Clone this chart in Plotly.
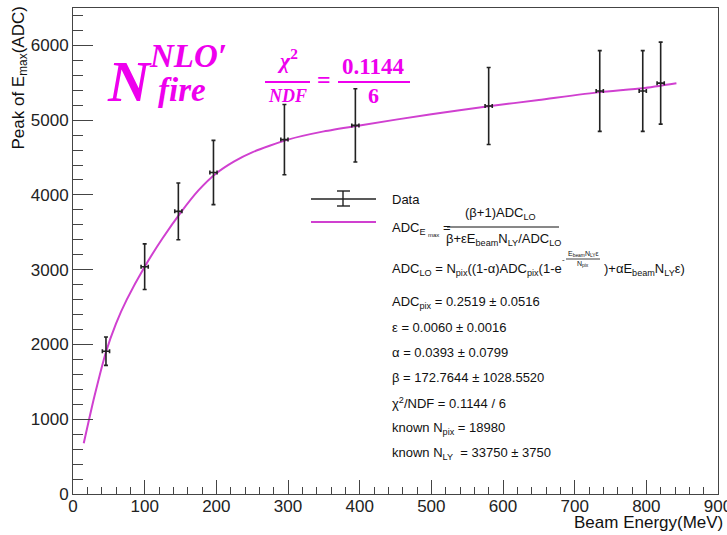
import plotly.graph_objects as go

# Measured peak positions per beam energy
energy_mev = [46, 100, 147, 196, 295, 394, 580, 735, 795, 820]
peak_adc = [1910, 3040, 3780, 4300, 4740, 4930, 5190, 5390, 5390, 5495]
peak_err = [190, 305, 380, 430, 470, 490, 515, 540, 540, 548]
energy_err = [5, 5, 5, 5, 5, 5, 5, 5, 5, 5]

# Fitted curve sampled along the energy axis
fit_energy = [15, 22, 30, 46, 60, 75, 100, 125, 150, 175, 200, 225, 250, 300,
              350, 400, 500, 580, 650, 735, 795, 842]
fit_adc = [680, 980, 1310, 1900, 2280, 2600, 3040, 3420, 3760, 4060, 4290, 4450,
           4570, 4740, 4850, 4930, 5080, 5185, 5270, 5375, 5428, 5495]

x_ticks = [0, 100, 200, 300, 400, 500, 600, 700, 800, 900]
y_ticks = [0, 1000, 2000, 3000, 4000, 5000, 6000]

param_lines = [
    "ADC<sub>pix</sub> = 0.2519 ± 0.0516",
    "ε = 0.0060 ± 0.0016",
    "α = 0.0393 ± 0.0799",
    "β = 172.7644 ± 1028.5520",
    "χ<sup>2</sup>/NDF = 0.1144 / 6",
    "known N<sub>pix</sub> = 18980",
    "known N<sub>LY</sub>  = 33750 ± 3750",
]

W, H = 727, 535
L, R, T, B = 73, 9, 8, 41
PW, PH = W - L - R, H - T - B

FONT = "Liberation Sans, Arial, Helvetica, sans-serif"
SERIF = "Liberation Serif, Times New Roman, serif"
MAG = "#ee00ee"
FIT = "#d040d0"


def px(x):
    return (x - L) / PW


def py(y):
    return (T + PH - y) / PH


fig = go.Figure()

fig.add_trace(go.Scatter(
    x=fit_energy, y=fit_adc, mode="lines",
    line=dict(color=FIT, width=2, shape="spline", smoothing=0.6),
    showlegend=False, hoverinfo="skip",
))

fig.add_trace(go.Scatter(
    x=energy_mev, y=peak_adc, mode="markers",
    marker=dict(size=2, color="#222"),
    error_y=dict(type="data", array=peak_err, color="#222", thickness=1.6, width=2),
    error_x=dict(type="data", array=energy_err, color="#222", thickness=1.6, width=2),
    showlegend=False,
))

annotations = []
shapes = []


def text(x, y, s, size=13, color="#111", xanchor="left", yanchor="middle",
         family=FONT, angle=0):
    annotations.append(dict(
        x=px(x), y=py(y), xref="paper", yref="paper", text=s, showarrow=False,
        xanchor=xanchor, yanchor=yanchor, textangle=angle,
        font=dict(size=size, color=color, family=family),
    ))


def hline(x0, x1, y, color="#111", width=1):
    shapes.append(dict(type="line", xref="paper", yref="paper",
                       x0=px(x0), x1=px(x1), y0=py(y), y1=py(y),
                       line=dict(color=color, width=width)))


def vline(x, y0, y1, color="#111", width=1):
    shapes.append(dict(type="line", xref="paper", yref="paper",
                       x0=px(x), x1=px(x), y0=py(y0), y1=py(y1),
                       line=dict(color=color, width=width)))


# Legend: data entry
hline(311, 376, 199, "#222", 1.4)
vline(343, 191, 206, "#222", 1.4)
hline(337, 350, 191, "#222", 1.4)
hline(337, 350, 206, "#222", 1.4)
text(390, 199, "Data")

# Legend: fit entry
hline(311, 376, 222, FIT, 2)
text(390, 228, "ADC<sub>E</sub>")
text(426, 235, "max", size=6)
text(441, 227, "=")
text(500, 213, "(β+1)ADC<sub>LO</sub>", xanchor="center")
hline(447, 559, 227)
text(503, 239, "β+εE<sub>beam</sub>N<sub>LY</sub>/ADC<sub>LO</sub>", xanchor="center")

# ADC_LO definition with exponent fraction
text(390, 269, "ADC<sub>LO</sub> = N<sub>pix</sub>((1-α)ADC<sub>pix</sub>(1-e")
text(560, 259, "-", size=8)
text(583, 254, "E<sub>beam</sub>N<sub>LY</sub>ε", size=7, xanchor="center")
hline(566, 600, 259, "#111", 0.8)
text(583, 264, "N<sub>pix</sub>", size=7, xanchor="center")
text(602, 269, ")+αE<sub>beam</sub>N<sub>LY</sub>ε)")

# Fit parameters
for i, s in enumerate(param_lines):
    text(390, 302 + i * 25.3, s)

# Magenta overlay labels
text(129, 82, "<b><i>N</i></b>", size=58, color=MAG, family=SERIF, xanchor="center")
text(188, 56, "<b><i>NLO′</i></b>", size=33, color=MAG, family=SERIF, xanchor="center")
text(182, 90, "<b><i>fire</i></b>", size=33, color=MAG, family=SERIF, xanchor="center")
text(287, 59, "<b><i>χ</i><sup>2</sup></b>", size=22, color=MAG, family=SERIF, xanchor="center")
hline(265, 310, 82, MAG, 2)
text(287, 96, "<b><i>NDF</i></b>", size=18, color=MAG, family=SERIF, xanchor="center")
text(324, 80, "<b>=</b>", size=24, color=MAG, family=SERIF, xanchor="center")
text(373, 67, "<b>0.1144</b>", size=23, color=MAG, family=SERIF, xanchor="center")
hline(338, 410, 82, MAG, 2)
text(373, 96, "<b>6</b>", size=22, color=MAG, family=SERIF, xanchor="center")

# Axis titles
text(725, 522, "Beam Energy(MeV)", size=17, xanchor="right")
text(20, 5, "Peak of E<sub>max</sub>(ADC)", size=17, xanchor="center", yanchor="top", angle=-90)

axis_common = dict(
    showgrid=False, zeroline=False, showline=True, linecolor="#444", linewidth=1,
    mirror=True, ticks="inside", tickcolor="#444",
    tickfont=dict(size=17, color="#222", family=FONT),
    ticklabeloverflow="allow", automargin=False,
)

fig.update_xaxes(
    range=[0, 900], tickvals=x_ticks, ticklen=14, ticklabelstandoff=-3,
    minor=dict(ticks="inside", dtick=20, ticklen=7, tickcolor="#444"),
    **axis_common,
)
fig.update_yaxes(
    range=[0, 6500], tickvals=y_ticks, ticklen=20,
    minor=dict(ticks="inside", dtick=200, ticklen=10, tickcolor="#444"),
    **axis_common,
)

fig.update_layout(
    width=W, height=H,
    margin=dict(l=L, r=R, t=T, b=B, autoexpand=False),
    paper_bgcolor="white", plot_bgcolor="white",
    annotations=annotations, shapes=shapes,
    showlegend=False,
)

fig.write_html("out.html")
